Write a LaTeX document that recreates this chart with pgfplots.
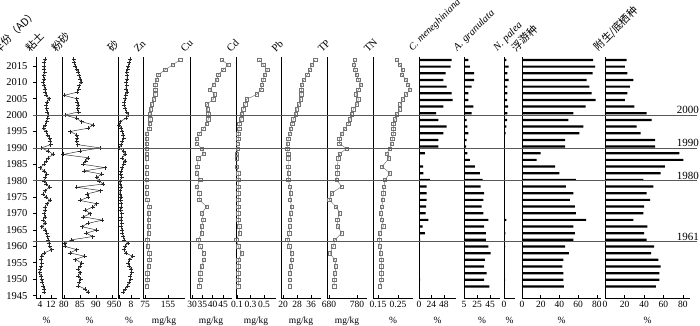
\documentclass[border=0pt]{standalone}
\usepackage{fontspec}
\setmainfont{Liberation Serif}
\newfontfamily\cjk{Noto Sans CJK SC}
\usepackage{pgfplots}
\usepackage{pgfplotstable}
\pgfplotsset{compat=1.18}

% common look of every column
\pgfplotsset{
  panel/.style={
    scale only axis, anchor=south west, height=241pt,
    ymin=1944.27, ymax=2017.7,
    axis lines*=left, ytick=\empty,
    axis line style={line width=0.8pt},
    tick style={line width=0.6pt, black},
    xtick align=inside, major tick length=3pt,
    tick label style={font=\fontsize{9.5}{10}\selectfont},
    /pgf/number format/assume math mode=true,
    /pgf/number format/1000 sep={},
    scaled x ticks=false,
    clip mode=individual,
    xlabel style={font=\fontsize{9.5}{10}\selectfont, at={(axis description cs:0.5,0)}, anchor=base, yshift=-25pt},
  },
  ttl/.style={after end axis/.code={\node[rotate=45, anchor=south west, inner sep=0pt,
      font=\fontsize{10.5}{12}\selectfont] at ([xshift=-5pt, yshift=4pt]rel axis cs:0,1) {#1};}},
  grain/.style={black!85, line width=0.45pt, mark=+, mark size=2pt, mark options={line width=0.45pt}},
  metal/.style={black!55, line width=0.45pt, mark=square, mark size=1.7pt, mark options={fill=white, line width=0.45pt}},
  bars/.style={xbar, bar width=2.2pt, bar shift=0pt, fill=black, draw=none},
}

% grain size (%), yearly
\pgfplotstableread{
yr    clay  silt  sand
2017  7.5   83.0  7.3
2016  7.0   83.3  6.8
2015  7.2   83.5  6.2
2014  6.8   84.0  5.8
2013  7.3   84.5  5.1
2012  6.6   84.8  5.5
2011  7.0   85.0  5.3
2010  6.2   85.3  4.8
2009  6.8   84.8  5.0
2008  7.6   84.6  4.6
2007  7.8   84.2  5.2
2006  8.5   80.0  4.4
2005  10.8  84.0  4.0
2004  9.0   84.2  3.6
2003  8.6   84.4  3.4
2002  8.9   84.3  4.2
2001  9.4   84.6  5.0
2000  9.8   80.3  6.2
1999  9.6   84.0  4.5
1998  8.8   85.5  0.8
1997  7.8   89.2  0.2
1996  6.6   87.5  1.2
1995  8.2   81.9  2.0
1994  9.5   84.0  2.6
1993  11.0  84.2  3.0
1992  11.4  84.0  2.2
1991  11.8  84.3  1.5
1990  5.2   91.3  0.2
1989  10.2  85.0  3.0
1988  13.8  79.8  4.2
1987  9.8   87.6  2.0
1986  8.4   86.8  4.0
1985  7.0   86.0  3.0
1984  4.0   92.8  2.0
1983  7.0   86.4  1.5
1982  8.9   91.8  1.0
1981  8.0   90.2  1.8
1980  7.2   91.0  0.8
1979  8.5   92.3  0.5
1978  11.0  84.0  1.5
1977  7.5   91.5  0.8
1976  6.2   87.3  0.5
1975  8.6   87.6  1.2
1974  11.3  85.0  1.0
1973  9.0   90.2  1.6
1972  7.6   89.0  1.4
1971  7.8   86.7  1.0
1970  7.1   88.3  1.8
1969  7.5   86.0  1.5
1968  6.4   92.0  1.2
1967  7.8   87.5  1.8
1966  5.2   85.6  1.5
1965  8.0   90.2  2.0
1964  8.9   87.0  2.3
1963  9.5   89.0  2.9
1962  10.1  82.4  3.5
1961  10.6  80.2  6.0
1960  11.0  80.3  4.0
1959  12.5  84.0  3.2
1958  7.0   81.9  4.5
1957  5.2   86.5  9.0
1956  4.6   83.5  7.0
1955  5.2   85.5  6.0
1954  5.0   85.0  6.8
1953  4.2   84.5  8.0
1952  3.8   85.0  8.4
1951  4.6   84.5  7.5
1950  5.2   85.2  7.8
1949  5.6   84.8  6.8
1948  6.4   84.5  5.8
1947  7.0   86.6  4.2
1946  7.1   87.6  2.9
}\grain

% metals (mg/kg), TP (mg/kg), TN (%)
\pgfplotstableread{
yr      Zn     Cu    Cd     Pb    TP     TN
2016.8  196.7  44.4  0.43   38.3  772.9  0.2435
2015.3  171.0  47.6  0.49   36.4  769.0  0.260
2013.8  145.0  45.1  0.55   35.4  773.0  0.2735
2012.3  121.0  42.7  0.51   33.9  778.9  0.268
2010.8  115.6  42.0  0.49   32.0  784.8  0.290
2009.3  109.8  40.5  0.47   30.7  794.3  0.300
2007.8  109.8  38.7  0.46   30.5  785.0  0.310
2006.3  109.8  41.1  0.39   30.3  776.4  0.290
2004.8  106.0  40.3  0.24   30.1  785.0  0.2735
2003.3  98.0   37.1  0.22   29.1  779.0  0.260
2001.8  94.8   37.5  0.19   27.8  766.9  0.260
2000.3  92.4   37.9  0.17   27.2  761.0  0.2435
1998.8  93.0   37.9  0.16   25.9  755.0  0.235
1997.3  91.0   37.1  0.13   25.2  749.0  0.2265
1995.8  90.0   35.5  0.13   24.4  737.0  0.2265
1994.3  80.8   33.5  0.12   24.0  725.0  0.2265
1992.8  80.8   32.3  0.12   23.0  717.0  0.222
1991.3  80.8   32.3  0.115  22.7  717.0  0.2185
1989.8  81.0   34.7  0.115  22.5  743.0  0.210
1988.3  81.0   35.8  0.10   23.0  719.0  0.1935
1986.8  81.0   33.0  0.10   23.0  713.0  0.205
1984.3  81.0   32.5  0.10   23.0  709.8  0.170
1982.3  81.0   32.3  0.12   23.3  709.8  0.210
1980.3  81.0   33.9  0.12   23.0  707.5  0.185
1978.2  81.0   32.3  0.12   24.0  725.0  0.180
1976.2  81.0   33.5  0.12   24.4  689.6  0.177
1974.2  82.0   33.5  0.12   24.0  681.0  0.173
1972.1  90.0   37.1  0.12   25.0  705.0  0.170
1970.1  87.0   34.7  0.12   24.4  719.0  0.163
1968.1  87.0   35.5  0.12   24.0  710.0  0.170
1966.1  87.0   34.7  0.13   24.0  712.0  0.177
1964.0  87.0   34.7  0.14   23.6  725.0  0.158
1962.0  83.0   33.0  0.09   22.5  701.0  0.157
1960.0  84.0   33.9  0.12   23.6  695.0  0.160
1957.9  90.0   35.8  0.17   25.0  683.6  0.163
1955.9  90.0   35.8  0.12   25.0  701.0  0.167
1953.9  87.0   34.7  0.12   24.4  705.0  0.167
1951.8  83.0   33.9  0.12   24.0  701.0  0.167
1949.8  83.0   33.9  0.12   24.0  699.0  0.167
1947.8  81.0   33.5  0.12   24.0  698.0  0.160
}\chem

% diatoms (%)
\pgfplotstableread{
yr       Cm    Ag    Np    Pl    Ep
2016.80  62.8  11.7  2.3   76.0  22.2
2014.77  60.9  14.2  4.7   77.9  20.5
2012.74  51.3  20.4  3.3   75.4  22.9
2010.71  46.8  20.4  4.7   69.0  29.1
2008.68  53.2  16.8  3.3   71.8  25.6
2006.65  62.8  11.7  3.3   74.3  22.9
2004.62  64.7  11.7  3.0   78.6  20.5
2002.59  46.8  19.3  4.0   67.9  30.1
2000.56  32.7  16.8  3.3   54.8  42.7
1998.53  37.2  9.1   3.0   49.4  47.9
1996.50  53.2  10.1  2.3   65.4  32.5
1994.47  46.8  11.7  1.7   61.2  36.6
1992.44  37.2  9.1   0.7   45.9  51.3
1990.41  37.2  8.1   0.5   45.9  51.3
1988.38  11.5  10.1  0.5   19.9  76.2
1986.35  1.9   14.2  0.5   15.6  80.3
1984.32  8.0   21.9  0.5   35.2  61.5
1982.29  8.3   29.6  0.5   39.8  57.1
1980.26  21.0  33.7  0.5   57.6  39.3
1978.23  14.7  30.7  0.5   46.9  49.6
1976.20  14.7  35.8  0.5   54.8  42.7
1974.17  14.7  34.7  0.5   51.2  46.2
1972.14  13.5  32.2  0.5   56.5  40.0
1970.11  12.8  34.7  0.5   57.6  39.3
1968.08  17.9  42.4  2.3   68.3  29.1
1966.05  7.0   35.8  0.4   54.8  43.4
1964.02  11.5  38.8  1.3   56.5  40.0
1961.99  2.0   38.8  0.4   54.8  42.7
1959.96  1.0   42.4  1.0   45.9  50.3
1957.93  0.5   46.0  0.4   50.1  47.2
1955.90  0.5   37.3  0.4   44.1  54.7
1953.87  0.5   35.8  0.4   43.0  57.1
1951.84  0.5   39.9  0.4   44.1  55.7
1949.81  2.0   35.8  1.0   44.1  55.7
1947.78  0.3   43.9  0.4   44.8  52.3
}\diat

\begin{document}
\begin{tikzpicture}
\path[use as bounding box] (0,0) rectangle (700pt,325pt);

% 粘土 (carries the year axis)
\begin{axis}[panel, ttl={\cjk 粘土}, at={(36pt,27pt)}, width=21pt,
  xmin=1.1, xmax=16.4, xtick={4,12}, xlabel={\%},
  ytick={1945,1950,...,2015}, ytick align=outside,
  yticklabel style={font=\fontsize{10.5}{11}\selectfont, xshift=-2pt}]
\addplot[grain] table[x=clay, y=yr] {\grain};
\end{axis}

% 粉砂
\begin{axis}[panel, ttl={\cjk 粉砂}, at={(62pt,27pt)}, width=55pt,
  xmin=79.4, xmax=96.6, xtick={80,85,90,95}, xlabel={\%}]
\addplot[grain] table[x=silt, y=yr] {\grain};
\end{axis}

% 砂
\begin{axis}[panel, ttl={\cjk 砂}, at={(118pt,27pt)}, width=22pt,
  xmin=-0.67, xmax=14, xtick={0,8}, xlabel={\%}]
\addplot[grain] table[x=sand, y=yr] {\grain};
\end{axis}

% Zn
\begin{axis}[panel, ttl={Zn}, at={(143pt,27pt)}, width=42pt,
  xmin=68, xmax=214, xtick={75,155}, xlabel={mg/kg}]
\addplot[metal] table[x=Zn, y=yr] {\chem};
\end{axis}

% Cu
\begin{axis}[panel, ttl={Cu}, at={(190pt,27pt)}, width=42pt,
  xmin=29.03, xmax=49.35, xtick={30,35,40,45}, xlabel={mg/kg}]
\addplot[metal] table[x=Cu, y=yr] {\chem};
\end{axis}

% Cd
\begin{axis}[panel, ttl={Cd}, at={(236pt,27pt)}, width=40pt,
  xmin=0.0852, xmax=0.678, xtick={0.1,0.3,0.5}, xlabel={mg/kg}]
\addplot[metal] table[x=Cd, y=yr] {\chem};
\end{axis}

% Pb
\begin{axis}[panel, ttl={Pb}, at={(281pt,27pt)}, width=40pt,
  xmin=18.86, xmax=41.7, xtick={20,28,36}, xlabel={mg/kg}]
\addplot[metal] table[x=Pb, y=yr] {\chem};
\end{axis}

% TP
\begin{axis}[panel, ttl={TP}, at={(327pt,27pt)}, width=40pt,
  xmin=672.9, xmax=815.7, xtick={680,780}, xlabel={mg/kg}]
\addplot[metal] table[x=TP, y=yr] {\chem};
\end{axis}

% TN
\begin{axis}[panel, ttl={TN}, at={(373pt,27pt)}, width=40pt,
  xmin=0.125, xmax=0.325, xtick={0.15,0.25}, xlabel={\%}]
\addplot[metal] table[x=TN, y=yr] {\chem};
\end{axis}

% C. meneghiniana
\begin{axis}[panel, ttl={\fontsize{10}{12}\selectfont\itshape C. meneghiniana}, at={(419pt,27pt)}, width=37pt,
  xmin=0, xmax=71.2, xtick={0,24,48}, xlabel={\%}]
\addplot[bars] table[x=Cm, y=yr] {\diat};
\end{axis}

% A. granulata
\begin{axis}[panel, ttl={\itshape A. granulata}, at={(464pt,27pt)}, width=36pt,
  xmin=5, xmax=60.4, xtick={5,25,45}, xlabel={\%}]
\addplot[bars] table[x=Ag, y=yr] {\diat};
\end{axis}

% N. palea
\begin{axis}[panel, ttl={\itshape N. palea}, at={(504pt,27pt)}, width=11pt,
  xmin=0, xmax=11, xtick={0}, xlabel={\%}]
\addplot[bars] table[x=Np, y=yr] {\diat};
\end{axis}

% 浮游种
\begin{axis}[panel, ttl={\cjk 浮游种}, at={(522pt,27pt)}, width=79pt,
  xmin=0, xmax=84.3, xtick={0,20,40,60,80}, xlabel={\%}]
\addplot[bars] table[x=Pl, y=yr] {\diat};
\end{axis}

% 附生/底栖种
\begin{axis}[panel, ttl={\cjk 附生/底栖种}, at={(605pt,27pt)}, width=85pt,
  xmin=0, xmax=87.2, xtick={0,20,40,60,80}, xlabel={\%}]
\addplot[bars] table[x=Ep, y=yr] {\diat};
\end{axis}

% overlay: event lines across all columns, x in picture units
\begin{axis}[at={(0pt,27pt)}, anchor=south west, scale only axis,
  width=700pt, height=241pt, xmin=0, xmax=700,
  ymin=1944.27, ymax=2017.7, hide axis, clip=false]
\addplot[black!65, line width=0.8pt] coordinates {(33,2000) (697,2000)};
\addplot[black!65, line width=0.8pt] coordinates {(33,1990) (697,1990)};
\addplot[black!65, line width=0.8pt] coordinates {(33,1980) (697,1980)};
\addplot[black!65, line width=0.8pt] coordinates {(33,1961.4) (697,1961.4)};
\node[anchor=south east, inner sep=1pt, font=\fontsize{11}{12}\selectfont] at (axis cs:700,2000) {2000};
\node[anchor=south east, inner sep=1pt, font=\fontsize{11}{12}\selectfont] at (axis cs:700,1990) {1990};
\node[anchor=south east, inner sep=1pt, font=\fontsize{11}{12}\selectfont] at (axis cs:700,1980) {1980};
\node[anchor=south east, inner sep=1pt, font=\fontsize{11}{12}\selectfont] at (axis cs:700,1961.4) {1961};
\node[rotate=45, anchor=south west, inner sep=0pt, font=\fontsize{10.5}{12}\selectfont]
  at (axis cs:-1,2018.3) {\cjk 年份（AD）};
\end{axis}
\end{tikzpicture}
\end{document}
